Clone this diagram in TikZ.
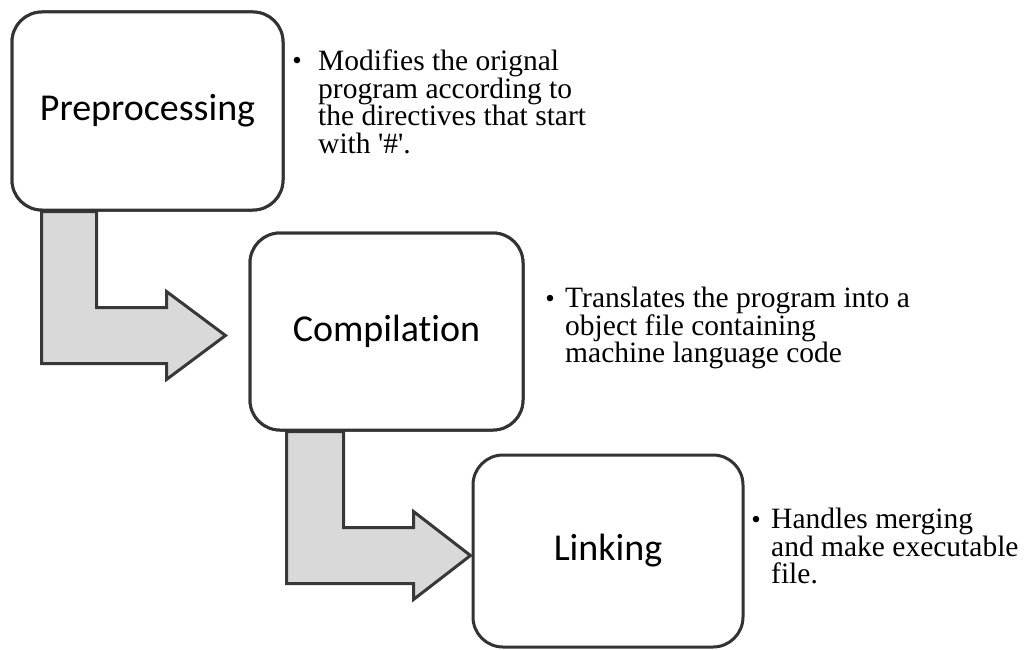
\documentclass[tikz,border=0pt]{standalone}
\usepackage{fontspec}
\setmainfont{Liberation Serif}
\newfontfamily\boxfont[Ligatures=NoCommon]{Carlito}
\usetikzlibrary{calc}
\definecolor{edgec}{HTML}{333333}
\definecolor{arrfill}{HTML}{D9D9D9}
\definecolor{arredge}{HTML}{383838}
\begin{document}
\begin{tikzpicture}[x=1pt,y=-1pt,
  stagebox/.style={draw=edgec,line width=3pt,rounded corners=30pt,fill=white,
    inner sep=0pt,font=\boxfont\fontsize{38}{40}\selectfont},
  bentarrow/.style={draw=arredge,line width=3pt,fill=arrfill,line join=miter},
  note/.style={anchor=north west,inner sep=0pt,align=left,
    font=\fontsize{29.5}{27.4}\selectfont},
  bulletmark/.style={anchor=base,inner sep=0pt,font=\fontsize{27}{29}\selectfont}]
\useasboundingbox (0,0) rectangle (1026,650);
\fill[white] (0,0) rectangle (1026,650);

% stage boxes (positions)
\node[stagebox,minimum width=271pt,minimum height=198pt] (pre) at (147.5,111) {Preprocessing};
\node[stagebox,minimum width=273pt,minimum height=197pt] (comp) at (386.5,331.5) {Compilation};
\node[stagebox,minimum width=270pt,minimum height=192pt] (link) at (608,551) {Linking};

% bent arrows
\path (pre.south west) ++(31,0) coordinate (a1s);
\path (comp.south west) ++(38,0) coordinate (a2s);
\draw[bentarrow] (a1s) -- ++(0,152) -- ++(125,0) -- ++(0,16) -- ++(59,-44)
  -- ++(-59,-44) -- ++(0,16) -- ++(-70,0) -- ++(0,-96) -- cycle;
\draw[bentarrow] (a2s) -- ++(0,152) -- ++(127,0) -- ++(0,16) -- ++(57,-44)
  -- ++(-57,-44) -- ++(0,16) -- ++(-70,0) -- ++(0,-96) -- cycle;

% boxes redrawn above the arrows
\node[stagebox,minimum width=271pt,minimum height=198pt] at (pre) {Preprocessing};
\node[stagebox,minimum width=273pt,minimum height=197pt] at (comp) {Compilation};

% notes
\node[bulletmark] (b1) at (297,70) {\textbullet};
\node[note] (n1) at (318,50) {Modifies the orignal\\program according to\\the directives that start\\with \textquotesingle\#\textquotesingle.};
\node[bulletmark] (b2) at (550,307) {\textbullet};
\node[note] (n2) at (565,287) {Translates the program into a\\object file containing\\machine language code};
\node[bulletmark] (b3) at (756,528) {\textbullet};
\node[note] (n3) at (771,508) {Handles merging\\and make executable\\file.};
\end{tikzpicture}
\end{document}
